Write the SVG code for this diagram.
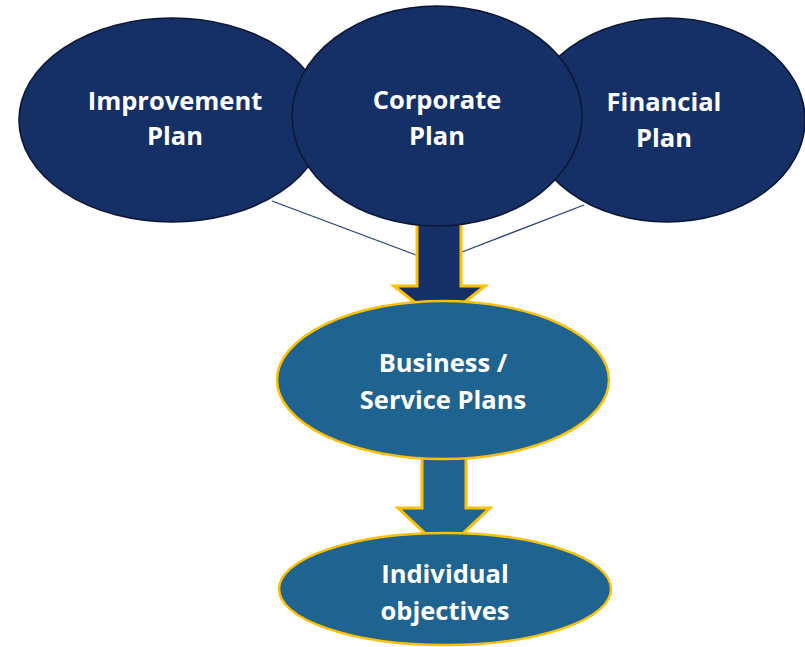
<svg xmlns="http://www.w3.org/2000/svg" width="805" height="647" viewBox="0 0 805 647">
<style>
.top{fill:#153066;stroke:#0B1733;stroke-width:1.6}
.low{fill:#1F6391;stroke:#FFC000;stroke-width:2.5}
.lbl{font-family:"Open Sans","Noto Sans",sans-serif;font-weight:bold;font-size:25.5px;fill:#FFFFFF;text-anchor:middle}
.con{stroke:#24407A;stroke-width:1.3;fill:none}
</style>
<rect width="805" height="647" fill="#FFFFFF"/>
<g id="connectors">
<line class="con" x1="272" y1="201" x2="416" y2="255"/>
<line class="con" x1="584" y1="205" x2="462" y2="252"/>
<path d="M417,222 L461,222 L461,286 L485,286 L439.5,322 L394,286 L417,286 Z" fill="#153066" stroke="#FFC000" stroke-width="3"/>
<path d="M422,455 L466,455 L466,508 L490,508 L444,551 L398,508 L422,508 Z" fill="#1F6391" stroke="#FFC000" stroke-width="3"/>
</g>
<g id="improvement-plan">
<ellipse class="top" cx="172" cy="120" rx="153" ry="102"/>
<text class="lbl" x="175" y="110">Improvement</text>
<text class="lbl" x="175" y="145">Plan</text>
</g>
<g id="financial-plan">
<ellipse class="top" cx="667" cy="120" rx="138" ry="102"/>
<text class="lbl" x="664" y="111">Financial</text>
<text class="lbl" x="664" y="147">Plan</text>
</g>
<g id="corporate-plan">
<ellipse class="top" cx="437" cy="116" rx="145" ry="110"/>
<text class="lbl" x="437" y="109">Corporate</text>
<text class="lbl" x="437" y="145">Plan</text>
</g>
<g id="business-service-plans">
<ellipse class="low" cx="443" cy="380" rx="166" ry="79"/>
<text class="lbl" x="443" y="372">Business /</text>
<text class="lbl" x="443" y="409">Service Plans</text>
</g>
<g id="individual-objectives">
<ellipse class="low" cx="445" cy="589" rx="166" ry="56"/>
<text class="lbl" x="445" y="583">Individual</text>
<text class="lbl" x="445" y="620">objectives</text>
</g>
</svg>
